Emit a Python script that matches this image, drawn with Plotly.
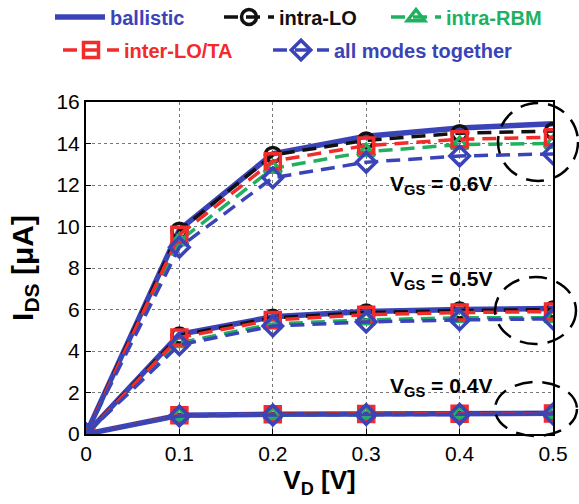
import plotly.graph_objects as go

vd = [0, 0.1, 0.2, 0.3, 0.4, 0.5]

# I_DS [uA] for each VGS and scattering case
ballistic = {
    "0.6": [0, 9.85, 13.5, 14.35, 14.75, 14.95],
    "0.5": [0, 4.8, 5.65, 5.9, 6.0, 6.05],
    "0.4": [0, 0.9, 0.95, 0.97, 0.98, 1.0],
}
intra_lo = {
    "0.6": [0, 9.8, 13.45, 14.15, 14.5, 14.6],
    "0.5": [0, 4.75, 5.6, 5.85, 5.95, 6.0],
    "0.4": [0, 0.9, 0.95, 0.97, 0.98, 1.0],
}
intra_rbm = {
    "0.6": [0, 9.3, 12.8, 13.6, 13.95, 14.0],
    "0.5": [0, 4.4, 5.3, 5.5, 5.6, 5.6],
    "0.4": [0, 0.88, 0.93, 0.95, 0.96, 0.97],
}
inter_lota = {
    "0.6": [0, 9.6, 13.15, 13.9, 14.2, 14.3],
    "0.5": [0, 4.65, 5.5, 5.75, 5.85, 5.9],
    "0.4": [0, 0.9, 0.95, 0.96, 0.97, 0.99],
}
all_modes = {
    "0.6": [0, 9.0, 12.35, 13.1, 13.4, 13.5],
    "0.5": [0, 4.3, 5.2, 5.4, 5.5, 5.55],
    "0.4": [0, 0.87, 0.92, 0.94, 0.95, 0.96],
}
vgs_labels = ["0.6", "0.5", "0.4"]
vgs_label_y = [12.0, 7.4, 2.25]
x_ticks = [0, 0.1, 0.2, 0.3, 0.4, 0.5]
x_ticktext = ["0", "0.1", "0.2", "0.3", "0.4", "0.5"]
y_ticks = [0, 2, 4, 6, 8, 10, 12, 14, 16]

BLUE = "#3a44b8"
BLACK = "#111111"
GREEN = "#1fb060"
RED = "#f22b2b"
FONT = "Liberation Sans"

W, H = 579, 504
L, R, T, B = 86, 553, 102, 434

# name, data, colour, dash, marker, width, legend id, legend pixel pos (x, y), item width
series = [
    ("ballistic", ballistic, BLUE, "solid", None, 5.5, "legend", (50, 17), 50),
    ("intra-LO", intra_lo, BLACK, "14px,8px", "circle-open", 3.5, "legend2", (219, 17), 50),
    ("intra-RBM", intra_rbm, GREEN, "14px,8px", "triangle-up-open", 3.5, "legend3", (386, 17), 50),
    ("inter-LO/TA", inter_lota, RED, "14px,8px", "square-open", 3.5, "legend4", (58, 50), 56),
    ("all modes together", all_modes, BLUE, "14px,8px", "diamond-open", 3.5, "legend5", (268, 50), 56),
]

fig = go.Figure()
legends = {}
for name, data, color, dash, sym, lw, leg, (lx, ly), iw in series:
    for i, v in enumerate(vgs_labels):
        mode = "lines" if sym is None else "lines+markers"
        fig.add_trace(go.Scatter(
            x=vd, y=data[v], mode=mode,
            name=f"<span style='color:{color}'><b>{name}</b></span>",
            legendgroup=name, showlegend=(i == 0), legend=leg,
            line=dict(color=color, width=lw, dash=dash),
            marker=dict(symbol=sym, size=15, color=color,
                        line=dict(color=color, width=3.5)) if sym else None,
        ))
    legends[leg] = dict(orientation="h", xref="container", yref="container",
                        x=lx / W, y=1 - ly / H, xanchor="left", yanchor="middle",
                        font=dict(size=20, family=FONT), bgcolor="rgba(0,0,0,0)",
                        itemwidth=iw, tracegroupgap=0)

for v, yy in zip(vgs_labels, vgs_label_y):
    fig.add_annotation(x=0.38, y=yy, xref="x", yref="y", showarrow=False,
                       text=f"<b>V<sub>GS</sub> = {v}V</b>",
                       font=dict(size=21, color="black", family=FONT))

# dashed ellipses, pixel boxes converted to paper coords
ellipses = [(498, 103, 578, 181), (495, 277, 576, 344), (495, 382, 577, 436)]
for x0, y0, x1, y1 in ellipses:
    fig.add_shape(type="circle", xref="paper", yref="paper",
                  x0=(x0 - L) / (R - L), x1=(x1 - L) / (R - L),
                  y0=(B - y1) / (B - T), y1=(B - y0) / (B - T),
                  line=dict(color="black", width=2.5, dash="18px,10px"))

axis_font = dict(family=FONT, size=21, color="black")
common_axis = dict(showgrid=True, gridcolor="#777", griddash="dot", gridwidth=1,
                   showline=True, linecolor="black", linewidth=2, mirror=True,
                   ticks="inside", ticklen=5, tickcolor="black", zeroline=False,
                   tickfont=axis_font, automargin=False,
                   tickprefix="<b>", ticksuffix="</b>")
fig.update_layout(
    width=W, height=H,
    margin=dict(l=L, r=W - R, t=T, b=H - B, autoexpand=False),
    paper_bgcolor="white", plot_bgcolor="white",
    font=dict(family=FONT, color="black"),
    xaxis=dict(range=[0, 0.5], tickvals=x_ticks, ticktext=x_ticktext,
               title=dict(text="<b>V<sub>D</sub> [V]</b>", font=dict(size=26), standoff=0),
               **common_axis),
    yaxis=dict(range=[0, 16], tickvals=y_ticks,
               title=dict(text="<b>I<sub>DS</sub> [μA]</b>", font=dict(size=30), standoff=14),
               **common_axis),
    **legends,
)

fig.write_html("out.html", config={"displayModeBar": False},
               post_script="document.body.style.margin='0';")
